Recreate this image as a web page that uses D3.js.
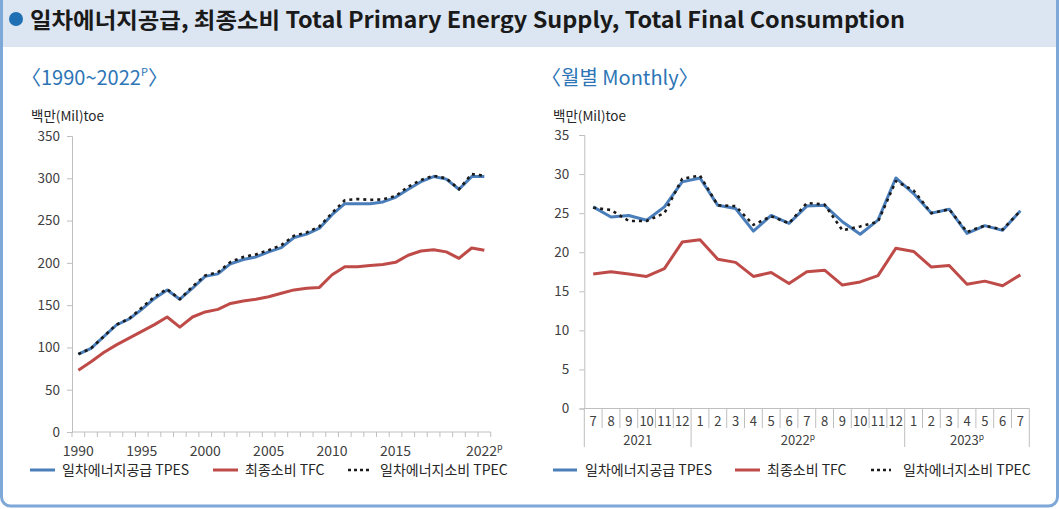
<!DOCTYPE html>
<html>
<head>
<meta charset="utf-8">
<script src="https://d3js.org/d3.v7.min.js"></script>
<style>
  body { margin: 0; background: #fff; }
  svg { display: block; font-family: "Noto Sans CJK KR", "Noto Sans", sans-serif; }
  .axis path, .axis line { stroke: #bfbfbf; }
  .axis text { fill: #404040; font-size: 13.5px; font-family: "Noto Sans CJK KR", sans-serif; }
</style>
</head>
<body onload="init()">
<svg width="1059" height="509"></svg>
<script>
// yearly series, 1990 ~ 2022p (Mtoe)
var years = d3.range(1990, 2023);
var tpes = [92, 99, 112.7, 126.5, 133.6, 145, 158, 168, 157, 170, 184, 187, 199, 204, 207, 213, 218, 230, 234, 241, 257, 270, 270, 270, 272, 277.5, 287, 296, 302, 299, 287, 302, 302];
var tpec = [92, 99, 113, 127, 134, 147, 160, 169, 157, 172, 185, 189, 201, 207, 210, 215, 221, 232, 236, 243, 259, 274, 275.5, 274.5, 275, 279, 290, 298, 303, 300, 287, 305, 303];
var tfc  = [73, 83, 94, 103, 111, 119, 127, 136, 124, 136, 142, 145, 152, 155, 157, 160, 164, 168, 170, 171, 186, 195.5, 195.5, 197, 198, 200.6, 209, 214, 215.6, 213, 205.4, 217.6, 214.8];
var yearTicks = [1990, 1995, 2000, 2005, 2010, 2015, 2022];
var yearTickLabels = ['1990', '1995', '2000', '2005', '2010', '2015', '2022'];
var yearTicksY = [0, 50, 100, 150, 200, 250, 300, 350];

// monthly series, 2021.7 ~ 2023.7 (Mtoe)
var months = [7, 8, 9, 10, 11, 12, 1, 2, 3, 4, 5, 6, 7, 8, 9, 10, 11, 12, 1, 2, 3, 4, 5, 6, 7];
var monthYears = ['2021', '2022', '2023'];
var monthYearSpans = [6, 12, 7];
var mTpes = [25.8, 24.5, 24.7, 24.1, 25.8, 29.0, 29.5, 26.0, 25.6, 22.7, 24.7, 23.7, 25.9, 26.0, 23.9, 22.3, 24.1, 29.5, 27.5, 25.0, 25.5, 22.4, 23.4, 22.8, 25.3];
var mTpec = [25.7, 25.4, 24.0, 24.0, 25.0, 29.4, 29.8, 26.0, 25.9, 23.5, 24.6, 23.7, 26.3, 26.1, 22.8, 23.3, 23.9, 29.1, 27.9, 25.0, 25.5, 22.6, 23.4, 22.9, 25.3];
var mTfc  = [17.2, 17.5, 17.2, 16.9, 17.9, 21.3, 21.6, 19.1, 18.7, 16.9, 17.4, 16.0, 17.5, 17.7, 15.8, 16.2, 17.0, 20.5, 20.1, 18.1, 18.3, 15.9, 16.3, 15.7, 17.1];
var monthTicksY = [0, 5, 10, 15, 20, 25, 30, 35];

var seriesNames = ['일차에너지공급 TPES', '최종소비 TFC', '일차에너지소비 TPEC'];
var colors = ['#4a7ebb', '#be4b48', '#1a1a1a'];

function init() {
  var svg = d3.select('svg');

  // frame and title band
  svg.append('rect').attr('x', 0).attr('y', 0).attr('width', 1059).attr('height', 47).attr('fill', '#dce6f2');
  svg.append('rect').attr('x', 1.5).attr('y', -8).attr('width', 1056).attr('height', 514)
    .attr('rx', 9).attr('fill', 'none').attr('stroke', '#7ea8d8').attr('stroke-width', 3);
  svg.append('circle').attr('cx', 16).attr('cy', 19).attr('r', 7).attr('fill', '#1f6fb5');
  svg.append('text').attr('x', 30).attr('y', 28)
    .attr('font-size', 22).attr('font-weight', 'bold').attr('fill', '#1a1a1a')
    .attr('textLength', 875).attr('lengthAdjust', 'spacingAndGlyphs')
    .text('일차에너지공급, 최종소비 Total Primary Energy Supply, Total Final Consumption');

  // subtitles
  var st1 = svg.append('text').attr('x', 21).attr('y', 85).attr('font-size', 20).attr('fill', '#2e75b6');
  st1.append('tspan').text('〈1990~2022');
  st1.append('tspan').attr('font-size', 11).attr('dy', -9).text('P');
  st1.append('tspan').attr('dy', 9).text('〉');
  svg.append('text').attr('x', 541).attr('y', 85).attr('font-size', 20).attr('fill', '#2e75b6').text('〈월별 Monthly〉');

  // ---- left chart ----
  var x = d3.scaleBand().domain(years).range([72, 490.7]);
  var y = d3.scaleLinear().domain([0, 350]).range([432, 136]);

  svg.append('text').attr('x', 31).attr('y', 121).attr('font-size', 13.5).attr('fill', '#262626').text('백만(Mil)toe');

  svg.append('g').attr('class', 'axis').attr('transform', 'translate(72,0)')
    .call(d3.axisLeft(y).tickValues(yearTicksY).tickSize(5).tickPadding(7));

  var xb = svg.append('g').attr('class', 'axis');
  xb.append('line').attr('x1', 72).attr('x2', 490.7).attr('y1', 432).attr('y2', 432);
  xb.selectAll('.tk').data(d3.range(years.length + 1)).enter().append('line')
    .attr('x1', function(i) { return 72 + i * x.step(); })
    .attr('x2', function(i) { return 72 + i * x.step(); })
    .attr('y1', 432).attr('y2', 437);
  var xl = xb.selectAll('.lb').data(yearTicks).enter().append('text')
    .attr('x', function(d) { return x(d) + x.bandwidth() / 2; })
    .attr('y', 456).attr('text-anchor', 'middle').style('font-size', '14px');
  xl.append('tspan').text(function(d, i) { return yearTickLabels[i]; });
  xl.filter(function(d) { return d == 2022; }).append('tspan')
    .attr('font-size', 9).attr('dy', -6).text('p');

  var line = d3.line()
    .x(function(d, i) { return x(years[i]) + x.bandwidth() / 2; })
    .y(function(d) { return y(d); });
  [tfc, tpes, tpec].forEach(function(s, k) {
    var idx = [1, 0, 2][k];
    svg.append('path').attr('d', line(s)).attr('fill', 'none')
      .attr('stroke', colors[idx]).attr('stroke-width', idx == 2 ? 2.6 : 3)
      .attr('stroke-dasharray', idx == 2 ? '3,4' : null)
      .attr('stroke-linejoin', 'round');
  });

  // ---- right chart ----
  var mx = d3.scaleBand().domain(d3.range(months.length)).range([584.3, 1029.3]);
  var my = d3.scaleLinear().domain([0, 35]).range([408.5, 135]);

  svg.append('text').attr('x', 553).attr('y', 121).attr('font-size', 13.5).attr('fill', '#262626').text('백만(Mil)toe');

  svg.append('g').attr('class', 'axis').attr('transform', 'translate(584.3,0)')
    .call(d3.axisLeft(my).tickValues(monthTicksY).tickSize(5).tickPadding(10));

  var mb = svg.append('g').attr('class', 'axis');
  mb.append('line').attr('x1', 584.3).attr('x2', 1029.3).attr('y1', 408.5).attr('y2', 408.5);
  var bounds = [0];
  monthYearSpans.forEach(function(n) { bounds.push(bounds[bounds.length - 1] + n); });
  mb.selectAll('.tk').data(d3.range(months.length + 1)).enter().append('line')
    .attr('x1', function(i) { return 584.3 + i * mx.step(); })
    .attr('x2', function(i) { return 584.3 + i * mx.step(); })
    .attr('y1', 408.5)
    .attr('y2', function(i) { return bounds.indexOf(i) >= 0 ? 447 : 428; });
  mb.selectAll('.lb').data(months).enter().append('text')
    .attr('x', function(d, i) { return mx(i) + mx.bandwidth() / 2; })
    .attr('y', 425.5).attr('text-anchor', 'middle').style('font-size', '13px')
    .text(function(d) { return d; });
  var yl = mb.selectAll('.yl').data(monthYears).enter().append('text')
    .attr('x', function(d, i) { return 584.3 + (bounds[i] + bounds[i + 1]) / 2 * mx.step(); })
    .attr('y', 445).attr('text-anchor', 'middle').style('font-size', '13px');
  yl.append('tspan').text(function(d) { return d; });
  yl.filter(function(d, i) { return i > 0; }).append('tspan')
    .attr('font-size', 8.5).attr('dy', -5).text('p');

  var mline = d3.line()
    .x(function(d, i) { return mx(i) + mx.bandwidth() / 2; })
    .y(function(d) { return my(d); });
  [mTfc, mTpes, mTpec].forEach(function(s, k) {
    var idx = [1, 0, 2][k];
    svg.append('path').attr('d', mline(s)).attr('fill', 'none')
      .attr('stroke', colors[idx]).attr('stroke-width', idx == 2 ? 2.6 : 3)
      .attr('stroke-dasharray', idx == 2 ? '3,4' : null)
      .attr('stroke-linejoin', 'round');
  });

  // ---- legends ----
  function legend(items) {
    var g = svg.append('g');
    items.forEach(function(it, i) {
      g.append('line').attr('x1', it[0]).attr('x2', it[1]).attr('y1', 470).attr('y2', 470)
        .attr('stroke', colors[i]).attr('stroke-width', i == 2 ? 2.6 : 3)
        .attr('stroke-dasharray', i == 2 ? '3,3' : null);
      g.append('text').attr('x', it[2]).attr('y', 475).attr('font-size', 14).attr('fill', '#262626')
        .text(seriesNames[i]);
    });
  }
  legend([[30, 55, 62], [213, 238, 245], [348, 372, 380]]);
  legend([[553, 577, 585], [735, 760, 767], [871, 891, 903]]);
}
</script>
</body>
</html>
